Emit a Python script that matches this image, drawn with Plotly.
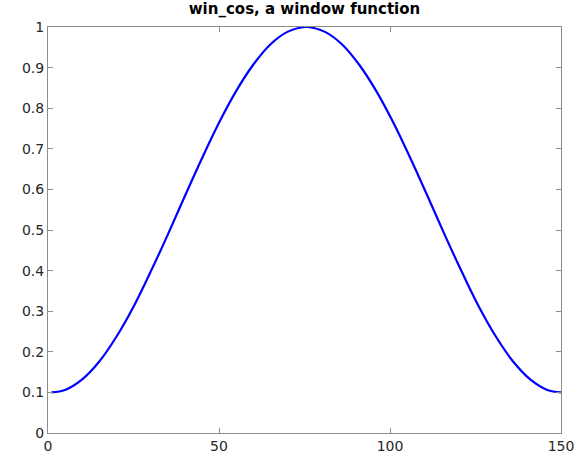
import plotly.graph_objects as go

# Sample points
x_vals = [1, 5, 10, 15, 20, 25, 30, 35, 40, 45, 50, 55, 60, 65, 70, 75, 76,
          81, 86, 91, 96, 101, 106, 111, 116, 121, 126, 131, 136, 141, 146, 150]
y_vals = [0.100, 0.106, 0.132, 0.176, 0.237, 0.311, 0.397, 0.488, 0.583, 0.676,
          0.764, 0.842, 0.907, 0.957, 0.988, 1.000, 1.000,
          0.988, 0.957, 0.907, 0.842, 0.764, 0.676, 0.583, 0.488, 0.397, 0.311,
          0.237, 0.176, 0.132, 0.106, 0.100]

x_ticks = [0, 50, 100, 150]
y_ticks = [0, 0.1, 0.2, 0.3, 0.4, 0.5, 0.6, 0.7, 0.8, 0.9, 1]
y_labels = ["0", "0.1", "0.2", "0.3", "0.4", "0.5", "0.6", "0.7", "0.8", "0.9", "1"]

fig = go.Figure(go.Scatter(x=x_vals, y=y_vals, mode="lines",
                           line=dict(color="#0000ff", width=2.2, shape="spline", smoothing=1.0)))

axis_common = dict(showgrid=False, zeroline=False, showline=True, mirror="ticks",
                   linecolor="#8c8c8c", linewidth=1, ticks="inside", ticklen=5,
                   tickcolor="#8c8c8c", automargin=False,
                   tickfont=dict(family="DejaVu Sans", size=14, color="#262626"))

fig.update_layout(
    width=585, height=457,
    margin=dict(l=48, r=24, t=27, b=24, autoexpand=False),
    paper_bgcolor="white", plot_bgcolor="white",
    title=dict(text="<b>win_cos, a window function</b>", x=0.5, xref="paper",
               y=1, yref="container", yanchor="top", pad=dict(t=3), automargin=False,
               font=dict(family="DejaVu Sans", size=15, color="black")),
    xaxis=dict(range=[0, 150], tickvals=x_ticks, ticktext=[str(v) for v in x_ticks], **axis_common),
    yaxis=dict(range=[0, 1], tickvals=y_ticks, ticktext=y_labels, **axis_common),
    showlegend=False,
)

fig.write_html("out.html")
